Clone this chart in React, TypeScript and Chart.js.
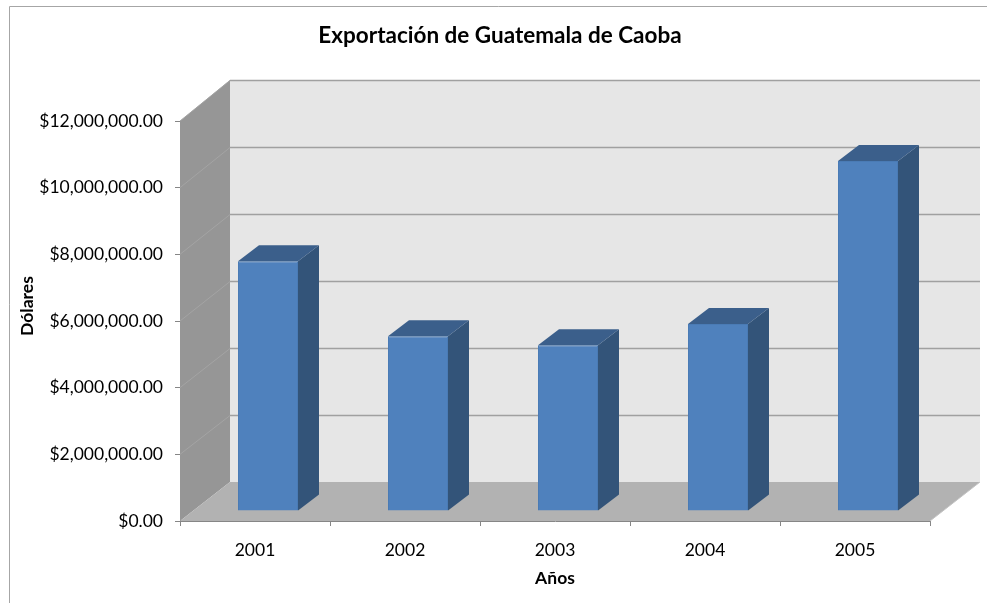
import React, { useEffect, useRef } from "react";
import { Chart, registerables } from "chart.js";

Chart.register(...registerables);

const TITLE = "Exportación de Guatemala de Caoba";
const X_TITLE = "Años";
const Y_TITLE = "Dólares";
const categories = ["2001", "2002", "2003", "2004", "2005"];
const exportValues = [7490000, 5240000, 4970000, 5610000, 10500000];
const yMin = 0;
const yMax = 12000000;
const yStep = 2000000;

const FONT = "Lato, 'Open Sans', sans-serif";

// 3D geometry (pixels)
const WALL_DX = 50;
const WALL_DY = -39;
const BACK_SCALE = 1.005;
const BAR_OX = 13;
const BAR_OY = -10;
const BAR_DX = 21;
const BAR_DY = -16;

const formatMoney = (v: number) =>
  "$" +
  v.toLocaleString("en-US", { minimumFractionDigits: 2, maximumFractionDigits: 2 });

const scene3d = {
  id: "scene3d",
  beforeDraw(chart: any) {
    const ctx = chart.ctx;
    ctx.save();
    ctx.fillStyle = "#ffffff";
    ctx.fillRect(0, 0, chart.width, chart.height);
    ctx.strokeStyle = "#a6a6a6";
    ctx.lineWidth = 1;
    ctx.beginPath();
    ctx.moveTo(9.5, chart.height);
    ctx.lineTo(9.5, 6.5);
    ctx.lineTo(chart.width, 6.5);
    ctx.stroke();
    ctx.restore();
  },
  beforeDatasetsDraw(chart: any) {
    const ctx = chart.ctx;
    const { left, right, top, bottom } = chart.chartArea;
    const yScale = chart.scales.y;
    const backY = (v: number) =>
      bottom + WALL_DY - (bottom - yScale.getPixelForValue(v)) * BACK_SCALE;
    const bTop = backY(yMax);
    const bBottom = backY(yMin);
    const bLeft = left + WALL_DX;
    const bRight = right + WALL_DX;
    ctx.save();
    // back wall
    ctx.fillStyle = "#e6e6e6";
    ctx.fillRect(bLeft, bTop, bRight - bLeft, bBottom - bTop);
    // left wall
    ctx.fillStyle = "#969696";
    ctx.beginPath();
    ctx.moveTo(left, top);
    ctx.lineTo(bLeft, bTop);
    ctx.lineTo(bLeft, bBottom);
    ctx.lineTo(left, bottom);
    ctx.closePath();
    ctx.fill();
    // floor
    ctx.fillStyle = "#b2b2b2";
    ctx.beginPath();
    ctx.moveTo(left, bottom);
    ctx.lineTo(bLeft, bBottom);
    ctx.lineTo(bRight, bBottom);
    ctx.lineTo(right, bottom);
    ctx.closePath();
    ctx.fill();
    ctx.strokeStyle = "#c4c4c4";
    ctx.lineWidth = 1;
    ctx.beginPath();
    ctx.moveTo(right, bottom);
    ctx.lineTo(bRight, bBottom);
    ctx.stroke();
    // gridlines
    for (let v = yMin + yStep; v <= yMax; v += yStep) {
      const yb = Math.round(backY(v)) + 0.5;
      ctx.strokeStyle = "#a0a0a0";
      ctx.lineWidth = 1.5;
      ctx.beginPath();
      ctx.moveTo(bLeft, yb);
      ctx.lineTo(bRight, yb);
      ctx.stroke();
      ctx.strokeStyle = "#a4a4a4";
      ctx.lineWidth = 1;
      ctx.beginPath();
      ctx.moveTo(left, yScale.getPixelForValue(v));
      ctx.lineTo(bLeft, yb);
      ctx.stroke();
    }
    ctx.restore();
  },
  beforeDatasetDraw(chart: any) {
    chart.ctx.save();
    chart.ctx.translate(BAR_OX, BAR_OY);
  },
  afterDatasetDraw(chart: any) {
    chart.ctx.restore();
  },
  afterDatasetsDraw(chart: any) {
    const ctx = chart.ctx;
    const meta = chart.getDatasetMeta(0);
    ctx.save();
    meta.data.forEach((bar: any) => {
      const { x, y, base, width } = bar.getProps(["x", "y", "base", "width"], true);
      const l = x - width / 2 + BAR_OX;
      const r = x + width / 2 + BAR_OX;
      const t = y + BAR_OY;
      const b = base + BAR_OY;
      // side
      ctx.fillStyle = "#335479";
      ctx.beginPath();
      ctx.moveTo(r, t);
      ctx.lineTo(r + BAR_DX, t + BAR_DY);
      ctx.lineTo(r + BAR_DX, b + BAR_DY);
      ctx.lineTo(r, b);
      ctx.closePath();
      ctx.fill();
      // top
      ctx.fillStyle = "#3b5f8b";
      ctx.beginPath();
      ctx.moveTo(l, t);
      ctx.lineTo(l + BAR_DX, t + BAR_DY);
      ctx.lineTo(r + BAR_DX, t + BAR_DY);
      ctx.lineTo(r, t);
      ctx.closePath();
      ctx.fill();
    });
    ctx.restore();
  },
  afterDraw(chart: any) {
    const ctx = chart.ctx;
    ctx.save();
    ctx.fillStyle = "#000000";
    ctx.textAlign = "center";
    ctx.textBaseline = "middle";
    ctx.font = `bold 22.5px ${FONT}`;
    ctx.fillText(TITLE, 500, 36);
    ctx.translate(27, 306);
    ctx.rotate(-Math.PI / 2);
    ctx.font = `bold 17.5px ${FONT}`;
    ctx.fillText(Y_TITLE, 0, 0);
    ctx.restore();
  },
};

export default function App() {
  const canvasRef = useRef<HTMLCanvasElement | null>(null);

  useEffect(() => {
    document.body.style.margin = "0";
    const canvas = canvasRef.current;
    if (!canvas) return;
    const chart = new Chart(canvas, {
      type: "bar",
      data: {
        labels: categories,
        datasets: [
          {
            label: "Exportación",
            data: exportValues,
            backgroundColor: "#4f81bd",
            borderColor: "#4a7bb5",
            borderWidth: 1,
            barPercentage: 0.4,
            categoryPercentage: 1,
          },
        ],
      },
      options: {
        animation: false,
        responsive: false,
        maintainAspectRatio: false,
        layout: { padding: { left: 0, right: 57, top: 121, bottom: 0 } },
        plugins: {
          legend: { display: false },
          tooltip: { enabled: false },
          title: { display: false },
        },
        scales: {
          x: {
            grid: {
              display: true,
              drawOnChartArea: false,
              drawTicks: true,
              tickLength: 5,
              color: "#868686",
              offset: true,
            },
            border: { display: true, color: "#868686" },
            ticks: {
              color: "#000000",
              font: { family: FONT, size: 17.5 },
              padding: 14,
              maxRotation: 0,
            },
            title: {
              display: true,
              text: X_TITLE,
              color: "#000000",
              font: { family: FONT, size: 17.5, weight: "bold" },
              padding: { top: 0, bottom: 14 },
            },
            afterFit: (scale: any) => {
              scale.height = 82;
            },
          },
          y: {
            min: yMin,
            max: yMax,
            grid: {
              display: true,
              drawOnChartArea: false,
              drawTicks: true,
              tickLength: 5,
              color: "#868686",
            },
            border: { display: true, color: "#868686" },
            ticks: {
              stepSize: yStep,
              color: "#000000",
              font: { family: FONT, size: 17.5 },
              padding: 12,
              callback: (v: any) => formatMoney(Number(v)),
            },
            afterFit: (scale: any) => {
              scale.width = 180;
            },
          },
        },
      },
      plugins: [scene3d],
    });
    return () => chart.destroy();
  }, []);

  return (
    <div style={{ width: 987, height: 603 }}>
      <canvas ref={canvasRef} width={987} height={603} style={{ display: "block" }} />
    </div>
  );
}
